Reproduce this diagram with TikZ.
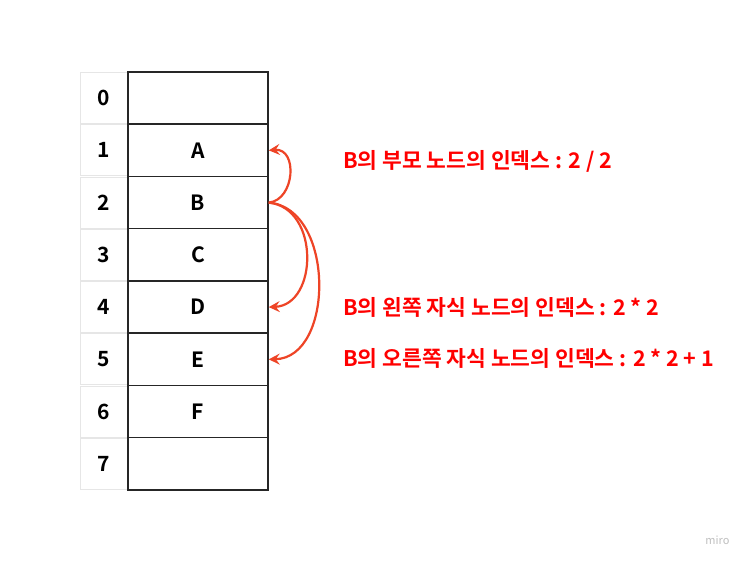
\documentclass[tikz,border=0pt]{standalone}
\usepackage{fontspec}
\setmainfont{Noto Sans CJK KR}[BoldFont={* Bold}]
\usetikzlibrary{arrows.meta}
\definecolor{arrred}{HTML}{EE4426}
\definecolor{lblred}{HTML}{FF0000}
\definecolor{idxgray}{HTML}{E6E6E6}
\begin{document}
\begin{tikzpicture}[x=1pt,y=-1pt,
  idx/.style={draw=idxgray,line width=1.2pt,minimum width=47pt,minimum height=51pt,inner sep=0pt,font=\fontsize{21}{21}\selectfont\bfseries},
  cell/.style={draw=black!85,line width=1.5pt,minimum width=140pt,minimum height=52.25pt,inner sep=0pt,font=\fontsize{21}{21}\selectfont\bfseries},
  lbl/.style={anchor=west,text=lblred,inner sep=0pt,font=\fontsize{21.5}{21.5}\selectfont\bfseries},
  arr/.style={draw=arrred,line width=2.2pt,-{Stealth[length=11pt,width=11pt,inset=4pt]}}]
\useasboundingbox[fill=white] (0,0) rectangle (750,562);
\foreach \i/\t in {0/,1/A,2/B,3/C,4/D,5/E,6/F,7/}{
  \node[idx] (i\i) at (104,98.1+52.25*\i) {\i};
  \node[cell] (c\i) at (198,98.1+52.25*\i) {\t};
}
\coordinate (bs) at (c2.east);
\draw[arr] (bs) .. controls (295,200) and (298,148) .. (c1.east);
\draw[arr] (bs) .. controls (320,208) and (318,305) .. (c4.east);
\draw[arr] (bs) .. controls (335,208) and (335,358) .. (c5.east);
\node[lbl] (l1) at (343,161) {B의 부모 노드의 인덱스 : 2 / 2};
\node[lbl] (l2) at (343,307) {B의 왼쪽 자식 노드의 인덱스 : 2 * 2};
\node[lbl] (l3) at (343,358) {B의 오른쪽 자식 노드의 인덱스 : 2 * 2 + 1};
\node[text=black!25,font=\fontsize{11}{11}\selectfont,anchor=east] (m) at (733,540) {miro};
\end{tikzpicture}
\end{document}
